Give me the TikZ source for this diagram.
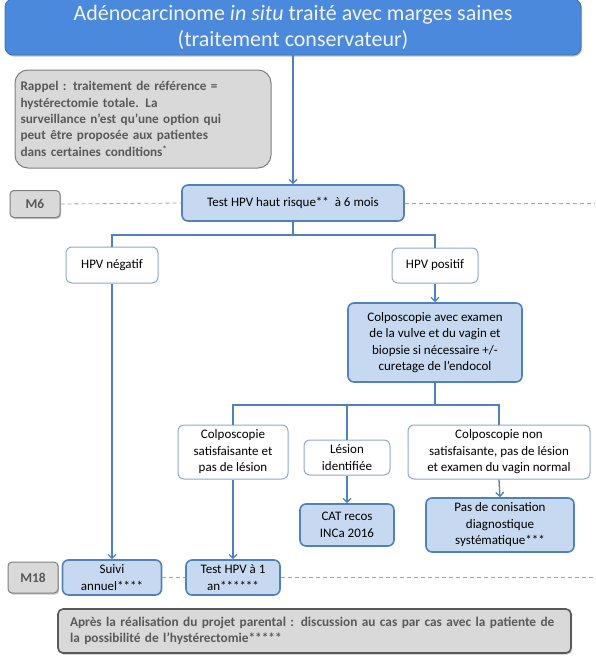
\documentclass[tikz,border=0pt]{standalone}
\usepackage{fontspec}
\setmainfont{Carlito}
\usetikzlibrary{arrows.meta,shadows}
\definecolor{connc}{HTML}{4F81BD}
\definecolor{lblue}{HTML}{C6D9F1}
\definecolor{tblue}{HTML}{4A89DC}
\definecolor{tborder}{HTML}{3C6EB4}
\definecolor{gfill}{HTML}{D9D9D9}
\definecolor{gtext}{HTML}{595959}
\definecolor{gborder}{HTML}{7F7F7F}
\definecolor{wborder}{HTML}{8EA9CC}
\definecolor{dashgray}{HTML}{A6A6A6}
\tikzset{
  sz/.style n args={2}{minimum width=#1pt, minimum height=#2pt},
  basefont/.style={font=\fontsize{13}{16.5}\selectfont},
  lbox/.style={basefont, fill=lblue, draw=connc, line width=1.6pt, rounded corners=6pt, align=center, inner sep=0pt},
  wbox/.style={basefont, fill=white, draw=wborder, line width=1pt, rounded corners=6pt, align=center, inner sep=0pt},
  mbox/.style={font=\fontsize{13.5}{16}\selectfont\bfseries, text=gtext, fill=gfill, draw=gborder, line width=1pt, rounded corners=4pt, inner sep=0pt,
    drop shadow={shadow xshift=1.2pt, shadow yshift=-1.5pt, opacity=0.45}},
  titlebox/.style={font=\fontsize{22}{26}\selectfont, text=white!95!black, fill=tblue, draw=tborder, line width=0.8pt, rounded corners=8pt, align=center, inner sep=0pt,
    drop shadow={shadow xshift=1pt, shadow yshift=-1.5pt, opacity=0.5}},
  notebox/.style={font=\fontsize{13.2}{16.4}\selectfont\bfseries, text=gtext, fill=gfill, draw=gborder, line width=1pt, rounded corners=13pt, align=left, inner sep=0pt},
  footbox/.style={font=\fontsize{13.3}{15.8}\selectfont\bfseries, text=gtext, fill=gfill, draw=gtext, line width=1.6pt, rounded corners=5pt, align=left, inner sep=0pt,
    drop shadow={shadow xshift=1.2pt, shadow yshift=-1.5pt, opacity=0.45}},
  ln/.style={draw=connc, line width=1.3pt},
  arr/.style={ln, -{Straight Barb[length=4pt,width=8pt]}},
  tline/.style={draw=dashgray, line width=0.8pt, dash pattern=on 4pt off 3pt},
}
\begin{document}
\begin{tikzpicture}[x=1pt,y=-1pt]
\useasboundingbox (0,0) rectangle (595,670);

\node[titlebox, sz={576}{56}] (title) at (293,27) {Adénocarcinome \textit{in situ} traité avec marges saines\\(traitement conservateur)};

\node[notebox, sz={256}{98}, text width=245pt] (rappel) at (143,119) {Rappel : traitement de référence =\\hystérectomie totale. La\\surveillance n’est qu’une option qui\\peut être proposée aux patientes\\dans certaines conditions\textsuperscript{*}};

\node[mbox, sz={50}{27}] (m6) at (35,204) {M6};
\node[lbox, sz={222}{36}] (test) at (293,203) {Test HPV haut risque**\ \ à 6 mois};

\node[wbox, sz={92}{36}] (neg) at (112,265) {HPV négatif};
\node[wbox, sz={86}{35}] (pos) at (435,265.5) {HPV positif};

\node[lbox, sz={174}{79}] (colpo) at (435,342.5) {Colposcopie avec examen\\de la vulve et du vagin et\\biopsie si nécessaire +/-\\curetage de l’endocol};

\node[wbox, sz={110}{54}] (c1) at (233,452) {Colposcopie\\satisfaisante et\\pas de lésion};
\node[wbox, sz={86}{35}] (c2) at (347,457.5) {Lésion\\identifiée};
\node[wbox, sz={182}{54}] (c3) at (499,452) {Colposcopie non\\satisfaisante, pas de lésion\\et examen du vagin normal};

\node[lbox, sz={94}{42}] (cat) at (347,525) {CAT recos\\INCa 2016};
\node[lbox, sz={148}{54}] (pas) at (500,525) {Pas de conisation\\diagnostique\\systématique***};

\node[mbox, sz={50}{31}] (m18) at (33,577.5) {M18};
\node[lbox, sz={99}{35}] (suivi) at (112,577.5) {Suivi\\annuel****};
\node[lbox, sz={94}{35}] (t1an) at (233,577.5) {Test HPV à 1\\an******};

\node[footbox, sz={513}{44}, text width=489pt] (foot) at (314.5,631) {Après la réalisation du projet parental : discussion au cas par cas avec la patiente de\\la possibilité de l’hystérectomie*****};

% timeline dashes
\coordinate (r6) at (595,203);
\coordinate (r18) at (595,577.5);
\draw[tline] (m6.east) -- (test.west);
\draw[tline] (test.east) -- (r6);
\draw[tline] (suivi.east) -- (t1an.west);
\draw[tline] (t1an.east) -- (r18);

% connectors
\draw[arr] (title.south) -- (test.north);
\coordinate (b1) at (293,235);
\draw[ln] (test.south) -- (b1) -| (neg.north);
\draw[ln] (b1) -| (pos.north);
\draw[arr] (neg.south) -- (suivi.north);
\draw[arr] (pos.south) -- (colpo.north);
\coordinate (b2) at (435,405);
\draw[ln] (colpo.south) -- (b2) -| (c1.north);
\draw[ln] (b2) -| (c3.north);
\draw[ln] (c2.north |- b2) -- (c2.north);
\draw[arr] (c1.south) -- (t1an.north);
\draw[arr] (c2.south) -- (cat.north);
\draw[arr] (c3.south) -- (pas.north);
\end{tikzpicture}
\end{document}
